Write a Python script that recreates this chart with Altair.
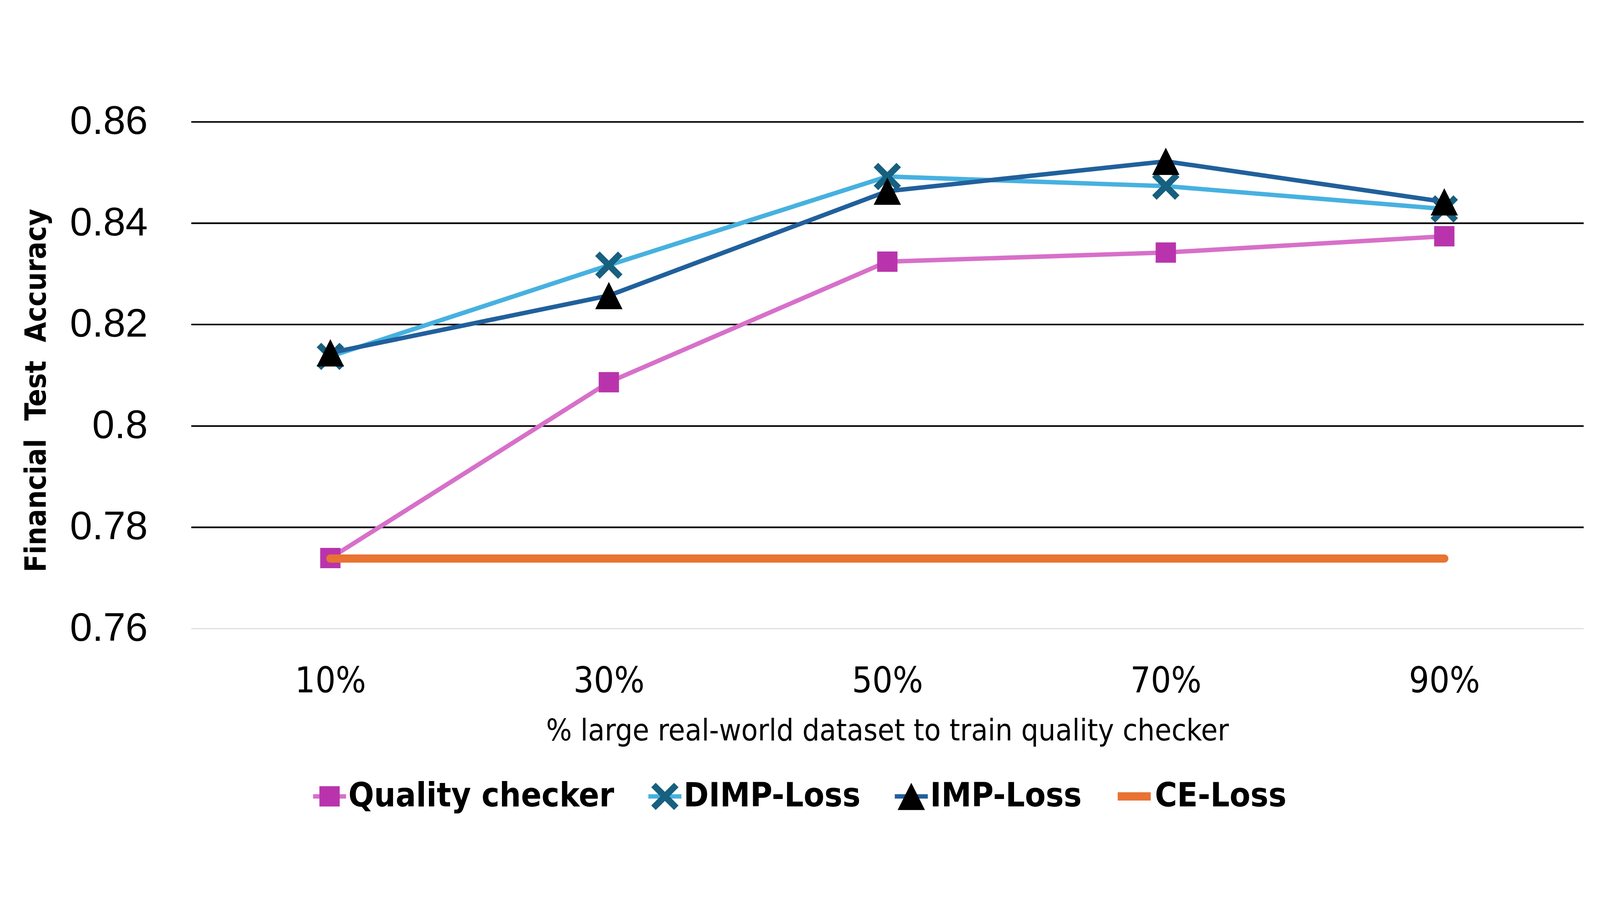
import altair as alt
import pandas as pd

# ---------------- data ----------------
categories = ["10%", "30%", "50%", "70%", "90%"]
series_names = ["Quality checker", "DIMP-Loss", "IMP-Loss", "CE-Loss"]
quality_checker = [0.7739, 0.8086, 0.8324, 0.8342, 0.8374]
dimp_loss = [0.8137, 0.8317, 0.8492, 0.8473, 0.8428]
imp_loss = [0.8144, 0.8257, 0.8463, 0.8522, 0.8442]
ce_loss = [0.7738, 0.7738, 0.7738, 0.7738, 0.7738]
y_ticks = [0.76, 0.78, 0.80, 0.82, 0.84, 0.86]

series_values = {
    "Quality checker": quality_checker,
    "DIMP-Loss": dimp_loss,
    "IMP-Loss": imp_loss,
    "CE-Loss": ce_loss,
}

# ---------------- styles ----------------
line_colors = ["#D770C9", "#47B1E0", "#21609C", "#E87332"]
line_widths = [14, 14, 14, 26]
marker_series = ["Quality checker", "DIMP-Loss", "IMP-Loss"]
marker_colors = ["#B934AC", "#17607F", "#000000"]
# marker paths at symbol size 104px (unit = 52px); the zero-area stub keeps the
# marker legend's entry bounds identical to the line legend's
stub = "M-1,0H1"
square_path = stub + "M-0.615,-0.615H0.615V0.615H-0.615Z"
x_path = (stub + "M-0.827,-0.554L-0.554,-0.827L0,-0.273L0.554,-0.827L0.827,-0.554"
          "L0.273,0L0.827,0.554L0.554,0.827L0,0.273L-0.554,0.827L-0.827,0.554L-0.273,0Z")
tri_path = stub + "M0,-0.827L0.827,0.827L-0.827,0.827Z"
marker_shapes = [square_path, x_path, tri_path]

NARROW = "Liberation Sans Narrow, DejaVu Sans Condensed, Liberation Sans"
REGULAR = "Liberation Sans"

rows = []
for s in series_names:
    for c, v in zip(categories, series_values[s]):
        rows.append({"pct": c, "series": s, "series_m": s, "value": v})
df = pd.DataFrame(rows)

W, H = 4385, 1596
LEG_FS = 106
MSIZE = 10816  # 104 x 104 px symbol box

x_enc = alt.X(
    "pct:N",
    sort=categories,
    scale=alt.Scale(type="point", padding=0.5, domain=categories),
    axis=alt.Axis(
        title="% large real-world dataset to train quality checker",
        titleFont=NARROW,
        titleFontSize=95,
        titleFontWeight="normal",
        titleColor="black",
        titleBaseline="alphabetic",
        titleY=352,
        titleLimit=4000,
        labelFont=NARROW,
        labelFontSize=112,
        labelColor="black",
        labelBaseline="alphabetic",
        labelPadding=201,
        labelAngle=0,
        labelLimit=1000,
        domain=False,
        ticks=False,
        tickSize=0,
        grid=False,
    ),
)

y_enc = alt.Y(
    "value:Q",
    scale=alt.Scale(domain=[0.76, 0.86], nice=False, zero=False),
    axis=alt.Axis(
        title="Financial\u00a0 Test\u00a0 Accuracy",
        titleFont=NARROW,
        titleFontSize=92,
        titleFontWeight="bold",
        titleColor="black",
        titleAngle=270,
        titleAlign="center",
        titleBaseline="alphabetic",
        titleX=-458,
        titleY=846,
        titleLimit=4000,
        values=y_ticks,
        format=".2~f",
        labelFont=REGULAR,
        labelFontSize=126,
        labelColor="black",
        labelBaseline="middle",
        labelPadding=137,
        labelLimit=1000,
        domain=False,
        ticks=False,
        tickSize=0,
        grid=True,
        gridColor={"condition": {"test": "datum.value < 0.7601", "value": "#D9D9D9"}, "value": "#000000"},
        gridWidth={"condition": {"test": "datum.value < 0.7601", "value": 3}, "value": 5},
    ),
)

common_leg = dict(
    title=None,
    orient="none",
    legendX=377,
    legendY=2066,
    direction="horizontal",
    symbolSize=MSIZE,
    labelFont=NARROW,
    labelFontSize=LEG_FS,
    labelFontWeight="bold",
    labelColor="black",
    labelBaseline="middle",
    labelOffset=0,
    labelLimit=3000,
    columnPadding=100,
    clipHeight=118,
    padding=0,
)

legA = alt.Legend(symbolType="stroke", **common_leg)
legB = alt.Legend(
    symbolStrokeWidth=14,
    symbolStrokeColor="transparent",
    symbolOpacity=1,
    labelOpacity=0,
    **common_leg,
)

stroke_enc = alt.Stroke(
    "series:N",
    scale=alt.Scale(domain=series_names, range=line_colors),
    legend=legA,
)
sw_enc = alt.StrokeWidth(
    "series:N",
    scale=alt.Scale(type="ordinal", domain=series_names, range=line_widths),
    legend=legA,
)
fill_enc = alt.Fill(
    "series_m:N",
    scale=alt.Scale(domain=marker_series, range=marker_colors),
    legend=legB,
)
shape_enc = alt.Shape(
    "series_m:N",
    scale=alt.Scale(domain=marker_series, range=marker_shapes),
    legend=legB,
)

base = alt.Chart(df)
layers = []
for s in series_names:
    line = (
        base.transform_filter(alt.datum.series == s)
        .mark_line(strokeCap="round", strokeJoin="round")
        .encode(x=x_enc, y=y_enc, stroke=stroke_enc, strokeWidth=sw_enc)
    )
    layers.append(line)
    if s in marker_series:
        pts = (
            base.transform_filter(alt.datum.series_m == s)
            .mark_point(filled=True, size=MSIZE, opacity=1,
                        stroke="transparent", strokeWidth=14)
            .encode(x=x_enc, y=y_enc, fill=fill_enc, shape=shape_enc)
        )
        layers.append(pts)

chart = (
    alt.layer(*layers)
    .properties(
        width=W,
        height=H,
        autosize=alt.AutoSizeParams(type="none"),
        padding={"left": 592, "top": 104, "right": 42, "bottom": 645},
        background="white",
    )
    .configure_view(strokeWidth=0)
)

chart.save("out.html", embed_options={"renderer": "svg", "actions": False})
